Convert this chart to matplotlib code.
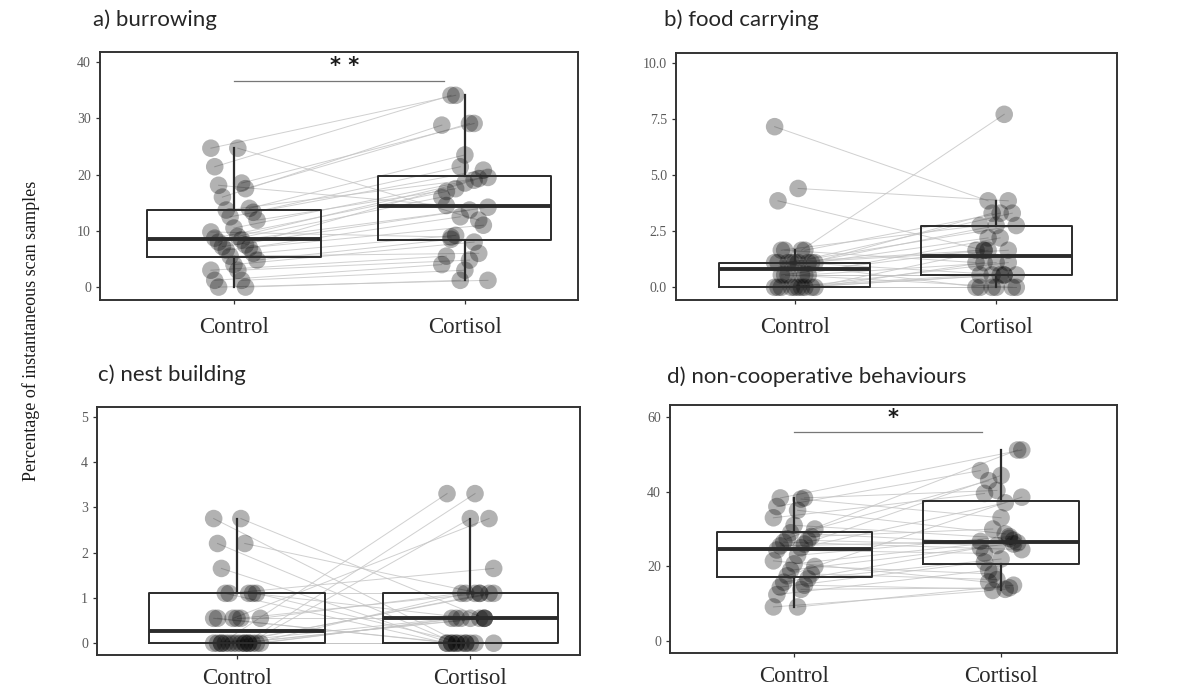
import numpy as np
import matplotlib.pyplot as plt

groups = ["Control", "Cortisol"]

# paired values per subject (same order in both lists)
burrow_control = [24.7, 24.7, 21.4, 18.5, 18.1, 17.5, 16.0, 14.0, 13.7, 13.3, 12.5, 11.9, 10.5, 9.8, 9.0, 8.7,
                  8.4, 8.0, 7.5, 7.2, 7.0, 6.6, 6.0, 5.5, 4.8, 4.0, 3.0, 3.0, 1.2, 1.2, 0.0, 0.0]
burrow_cortisol = [34.1, 11.9, 34.1, 29.1, 14.5, 29.1, 28.8, 23.5, 19.5, 21.4, 20.8, 17.5, 19.3, 8.9, 19.0, 17.0,
                   13.7, 16.0, 18.5, 14.2, 12.5, 11.0, 9.2, 6.0, 8.5, 8.0, 5.5, 4.8, 4.0, 3.0, 1.2, 1.2]

food_control = [7.15, 4.4, 3.85, 1.65, 1.65, 1.65, 1.65,
                1.1, 1.1, 1.1, 1.1, 1.1, 1.1, 1.1, 1.1, 1.1,
                0.55, 0.55, 0.55, 0.55, 0.55, 0.55,
                0, 0, 0, 0, 0, 0, 0, 0, 0, 0]
food_cortisol = [3.85, 3.85, 1.65, 7.7, 2.75, 3.3, 1.1,
                 2.75, 2.75, 3.3, 3.3, 2.2, 1.65, 1.65, 0.55, 0,
                 2.2, 1.65, 1.1, 0.55, 0.55, 0,
                 1.65, 1.1, 1.1, 0.55, 0.55, 0.55, 0, 0, 0, 0]

nest_control = [2.75, 2.75, 2.2, 2.2, 1.65,
                1.1, 1.1, 1.1, 1.1, 1.1,
                0.55, 0.55, 0.55, 0.55, 0.55, 0.55,
                0, 0, 0, 0, 0, 0, 0, 0, 0, 0, 0, 0, 0, 0, 0, 0]
nest_cortisol = [0, 0.55, 0, 1.1, 0,
                 1.1, 0, 0.55, 1.65, 0,
                 2.75, 1.1, 0.55, 0, 1.1, 0,
                 3.3, 3.3, 2.75, 1.1, 1.1, 1.1, 0.55, 0.55, 0.55, 0.55, 0.55, 0, 0, 0, 0, 0]

noncoop_control = [9.2, 9.2, 12.5, 13.9, 14.5, 15.0, 15.8, 16.7, 17.5, 18.0, 19.0, 20.0, 20.7, 21.5, 23.0, 24.4,
                   25.0, 25.5, 26.0, 26.5, 27.0, 27.4, 28.0, 29.0, 30.0, 31.0, 33.0, 35.0, 36.0, 38.0, 38.3, 38.3]
noncoop_cortisol = [13.6, 15.0, 19.0, 14.3, 21.2, 13.9, 25.0, 22.0, 38.5, 16.5, 26.3, 18.0, 27.0, 15.8, 28.0, 23.5,
                    37.0, 26.7, 44.3, 24.5, 25.6, 51.1, 30.0, 26.0, 42.9, 27.5, 39.5, 28.7, 45.6, 33.0, 51.1, 40.3]

titles = ["a) burrowing", "b) food carrying", "c) nest building", "d) non-cooperative behaviours"]
yticks = [[0, 10, 20, 30, 40], [0.0, 2.5, 5.0, 7.5, 10.0], [0, 1, 2, 3, 4, 5], [0, 20, 40, 60]]
ytick_labels = [["0", "10", "20", "30", "40"], ["0.0", "2.5", "5.0", "7.5", "10.0"],
                ["0", "1", "2", "3", "4", "5"], ["0", "20", "40", "60"]]
signif = ["* *", None, None, "*"]

data = [(burrow_control, burrow_cortisol), (food_control, food_cortisol),
        (nest_control, nest_cortisol), (noncoop_control, noncoop_cortisol)]

# layout (figure fractions), y and x limits
rects = [[0.085, 0.5652, 0.4061, 0.3594], [0.5743, 0.5652, 0.3747, 0.358],
         [0.0824, 0.0507, 0.4104, 0.3594], [0.5692, 0.0536, 0.3798, 0.3594]]
title_xy = [(0.079, 0.971), (0.564, 0.971), (0.0833, 0.4565), (0.5667, 0.454)]
xpads = [9, 9, 6, 6]
ylims = [(-2.3, 41.8), (-0.565, 10.43), (-0.26, 5.21), (-3.1, 63.1)]
xlims = [(-0.58, 1.49), (-0.59, 1.60), (-0.60, 1.47), (-0.60, 1.56)]
sig_y = [36.6, None, None, 55.8]
star_y = [37.6, None, None, 57.0]

box_col = "#2b2b2b"
fig = plt.figure(figsize=(11.77, 6.9), dpi=100)

for k in range(4):
    ax = fig.add_axes(rects[k])
    ctrl, cort = data[k]
    n = len(ctrl)
    idx = np.arange(n)
    jx0 = ((idx * 7) % 13 / 12.0 - 0.5) * 0.2
    jx1 = 1 + ((idx * 5 + 3) % 11 / 10.0 - 0.5) * 0.2

    # subject lines
    for i in range(n):
        ax.plot([jx0[i], jx1[i]], [ctrl[i], cort[i]], color="#c4c4c4", lw=0.7, alpha=0.8, zorder=1)

    ax.scatter(jx0, ctrl, s=160, color="black", alpha=0.3, edgecolors="none", zorder=2)
    ax.scatter(jx1, cort, s=160, color="black", alpha=0.3, edgecolors="none", zorder=2)

    ax.boxplot([ctrl, cort], positions=[0, 1], widths=0.75, whis=1.5, showfliers=False,
               showcaps=False, patch_artist=False, zorder=3,
               boxprops=dict(color=box_col, lw=1.4),
               medianprops=dict(color=box_col, lw=2.8),
               whiskerprops=dict(color=box_col, lw=1.6))

    if signif[k]:
        ax.plot([0, 0.91], [sig_y[k], sig_y[k]], color="#777777", lw=0.9, zorder=1)
        ax.text(0.48, star_y[k], signif[k], ha="center", va="bottom",
                fontsize=15, fontweight="bold", family="DejaVu Sans", color="#1a1a1a")

    ax.set_xlim(xlims[k])
    ax.set_ylim(ylims[k])
    ax.set_xticks([0, 1])
    ax.set_xticklabels(groups, family="Liberation Serif", fontsize=16.5, color="#2a2a2a")
    ax.set_yticks(yticks[k])
    ax.set_yticklabels(ytick_labels[k], family="Liberation Serif", fontsize=10, color="#5a5a5a")
    ax.tick_params(axis="both", length=3, width=0.9, color="#333333")
    ax.tick_params(axis="x", pad=xpads[k])
    for sp in ax.spines.values():
        sp.set_color("#333333")
        sp.set_linewidth(1.4)

    fig.text(title_xy[k][0], title_xy[k][1], titles[k], family="Lato", fontsize=16,
             ha="left", va="center", color="#262626")

fig.text(0.026, 0.52, "Percentage of instantaneous scan samples", rotation=90, ha="center", va="center",
         family="Liberation Serif", fontsize=13, color="#1a1a1a")

fig.savefig("out.png", dpi=100)
